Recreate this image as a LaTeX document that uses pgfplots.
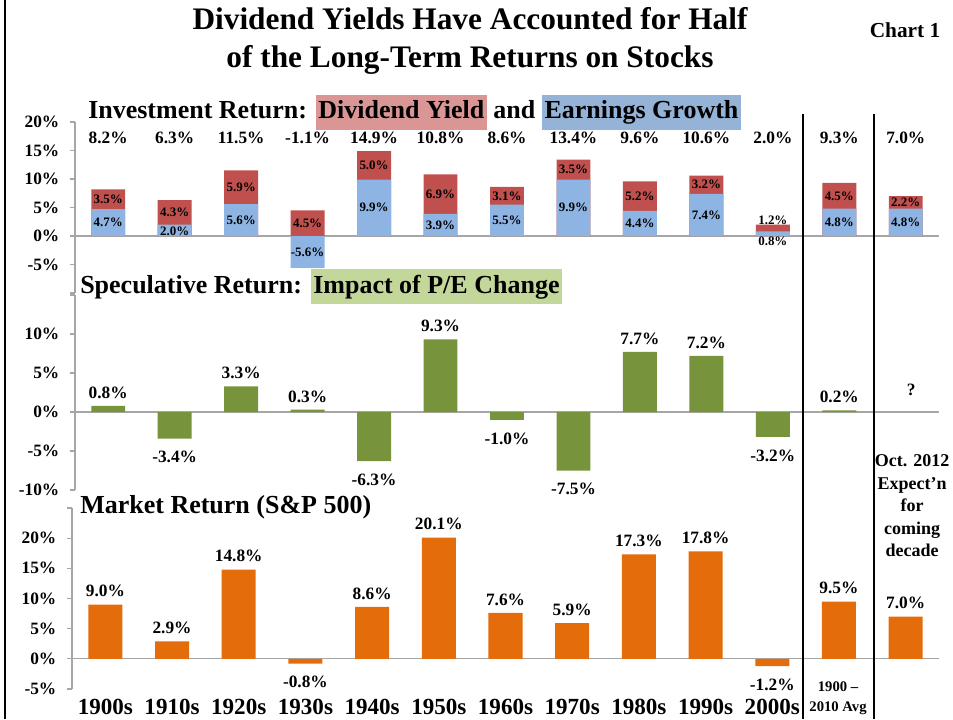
\documentclass[border=0pt]{standalone}
\usepackage{pgfplots}
\pgfplotsset{compat=1.18}
\usepackage{pgfplotstable}
\usepackage{fontspec}
\setmainfont{Liberation Serif}

\definecolor{egblue}{HTML}{8DB4E2}
\definecolor{dyred}{HTML}{C0504D}
\definecolor{pegreen}{HTML}{77933C}
\definecolor{mkorange}{HTML}{E46C0A}
\definecolor{hlpink}{HTML}{DA9694}
\definecolor{hlblue}{HTML}{95B3D7}
\definecolor{hlgreen}{HTML}{C4D79B}
\definecolor{axgray}{HTML}{A6A6A6}

\newcommand{\fs}[2]{\fontsize{#1}{#2}\selectfont\bfseries}
\newcommand{\hl}[2]{{\setlength{\fboxsep}{2pt}\colorbox{#1}{\rule[-6pt]{0pt}{22pt}#2}}}

% investment return: earnings growth (eg), dividend yield (dy), total, label heights
\pgfplotstableread{
x  eg    dy   tot   dyl   egl
0  4.7   3.5  8.2   6.45  2.35
1  2.0   4.3  6.3   4.15  0.8
2  5.6   5.9  11.5  8.55  2.8
3  -5.6  4.5  -1.1  2.25  -2.8
4  9.9   5.0  14.9  12.4  4.95
5  3.9   6.9  10.8  7.35  1.95
6  5.5   3.1  8.6   7.05  2.75
7  9.9   3.5  13.4  11.65 4.95
8  4.4   5.2  9.6   7.0   2.2
9  7.4   3.2  10.6  9.0   3.7
10 0.8   1.2  2.0   2.7   -0.9
11 4.8   4.5  9.3   7.05  2.4
12 4.8   2.2  7.0   5.9   2.4
}\invest

% speculative return: impact of P/E change
\pgfplotstableread{
x  pe
0  0.8
1  -3.4
2  3.3
3  0.3
4  -6.3
5  9.3
6  -1.0
7  -7.5
8  7.7
9  7.2
10 -3.2
11 0.2
}\spec

% market return (S&P 500)
\pgfplotstableread{
x  mk
0  9.0
1  2.9
2  14.8
3  -0.8
4  8.6
5  20.1
6  7.6
7  5.9
8  17.3
9  17.8
10 -1.2
11 9.5
12 7.0
}\market

\pgfplotsset{
  panel/.style={
    scale only axis, clip=false,
    xmin=-0.5, xmax=12.5,
    axis y line*=left, axis x line*=bottom,
    axis line style={-, draw=axgray, line width=0.9pt},
    x axis line style={draw=none},
    xtick=\empty,
    tick align=outside, major tick length=3.75pt,
    ytick style={draw=axgray, line width=0.9pt},
    yticklabel style={font=\fs{13}{15}, xshift=-4.5pt},
    bar width=0.51,
    every node near coord/.append style={font=\fs{13}{15}, text=black},
  },
  pct/.style={nodes near coords={\pgfmathprintnumber[fixed,fixed zerofill,precision=1,assume math mode=true]{\pgfplotspointmeta}\%}},
  % push labels of negative bars further down, positive a little up
  signshift/.style={visualization depends on={#1 \as \val},
    every node near coord/.append style={yshift={\val<0 ? -6 : 2}}},
}

\begin{document}
\begin{tikzpicture}[x=0.75pt, y=0.75pt]
\useasboundingbox (0,0) rectangle (953,719);

\draw[line width=1.5pt] (5,0) -- (5,719);

\node[font=\fs{23.5}{28}, align=center] at (470,678) {Dividend Yields Have Accounted for Half\\of the Long-Term Returns on Stocks};
\node[font=\fs{16}{19}] at (905,689) {Chart 1};

% panel 1
\begin{axis}[panel, at={(56.25pt,319.5pt)}, anchor=south west, width=648pt, height=128.25pt,
  ymin=-10, ymax=20, ytick={-10,-5,0,5,10,15,20},
  yticklabels={,-5\%,0\%,5\%,10\%,15\%,20\%}]
\draw[axgray, line width=0.9pt] (axis cs:-0.5,0) -- (axis cs:12.5,0);
\addplot[ybar, bar shift=0pt, fill=dyred, draw=none]
  table[x=x, y expr={max(\thisrow{eg},0)+\thisrow{dy}}]{\invest};
\addplot[ybar, bar shift=0pt, fill=egblue, draw=none] table[x=x, y=eg]{\invest};
\addplot[draw=none, mark=none, pct, point meta=\thisrow{dy}, nodes near coords align=center,
  every node near coord/.append style={font=\fs{9.7}{11}}] table[x=x, y=dyl]{\invest};
\addplot[draw=none, mark=none, pct, point meta=\thisrow{eg}, nodes near coords align=center,
  every node near coord/.append style={font=\fs{9.7}{11}}] table[x=x, y=egl]{\invest};
\addplot[draw=none, mark=none, pct, point meta=\thisrow{tot}, nodes near coords align=center]
  table[x=x, y expr=17.2]{\invest};
\end{axis}

% panel 2
\begin{axis}[panel, at={(56.25pt,171.75pt)}, anchor=south west, width=648pt, height=146.25pt,
  ymin=-10, ymax=15, ytick={-10,-5,0,5,10,15},
  yticklabels={-10\%,-5\%,0\%,5\%,10\%,}]
\draw[axgray, line width=0.9pt] (axis cs:-0.5,0) -- (axis cs:12.5,0);
\addplot[ybar, bar shift=0pt, fill=pegreen, draw=none, pct, signshift=\thisrow{pe}]
  table[x=x, y=pe]{\spec};
\node[font=\fs{13}{15}] at (axis cs:12.08,2.8) {?};
\end{axis}

% panel 3
\begin{axis}[panel, at={(54pt,22.5pt)}, anchor=south west, width=650.25pt, height=135.75pt,
  ymin=-5, ymax=25, ytick={-5,0,5,10,15,20,25},
  yticklabels={-5\%,0\%,5\%,10\%,15\%,20\%,},
  xtick={0,...,10}, xtick style={draw=none},
  xticklabels={1900s,1910s,1920s,1930s,1940s,1950s,1960s,1970s,1980s,1990s,2000s},
  xticklabel style={font=\fs{17.3}{20}}]
\draw[axgray, line width=0.9pt] (axis cs:-0.5,0) -- (axis cs:12.5,0);
\addplot[ybar, bar shift=0pt, fill=mkorange, draw=none, pct, signshift=\thisrow{mk}]
  table[x=x, y=mk]{\market};
\end{axis}

% panel titles
\node[anchor=base west, font=\fs{19.5}{23}, inner sep=0pt] at (88,600)
  {Investment Return: \hl{hlpink}{Dividend Yield} and \hl{hlblue}{Earnings Growth}};
\node[anchor=base west, font=\fs{19.5}{23}, inner sep=0pt] at (80,426)
  {Speculative Return: \hl{hlgreen}{Impact of P/E Change}};
\node[anchor=base west, font=\fs{19.5}{23}, inner sep=0pt] at (80,206)
  {Market Return (S\&P 500)};

% separators and side notes
\draw[line width=1.5pt] (803,605) -- (803,0);
\draw[line width=1.5pt] (874,605) -- (874,0);
\node[font=\fs{13.5}{16.9}, align=center] at (912,213) {Oct. 2012\\Expect'n\\for\\coming\\decade};
\node[font=\fs{11}{15}, align=center] at (838,21) {1900 --\\2010 Avg};
\end{tikzpicture}
\end{document}
